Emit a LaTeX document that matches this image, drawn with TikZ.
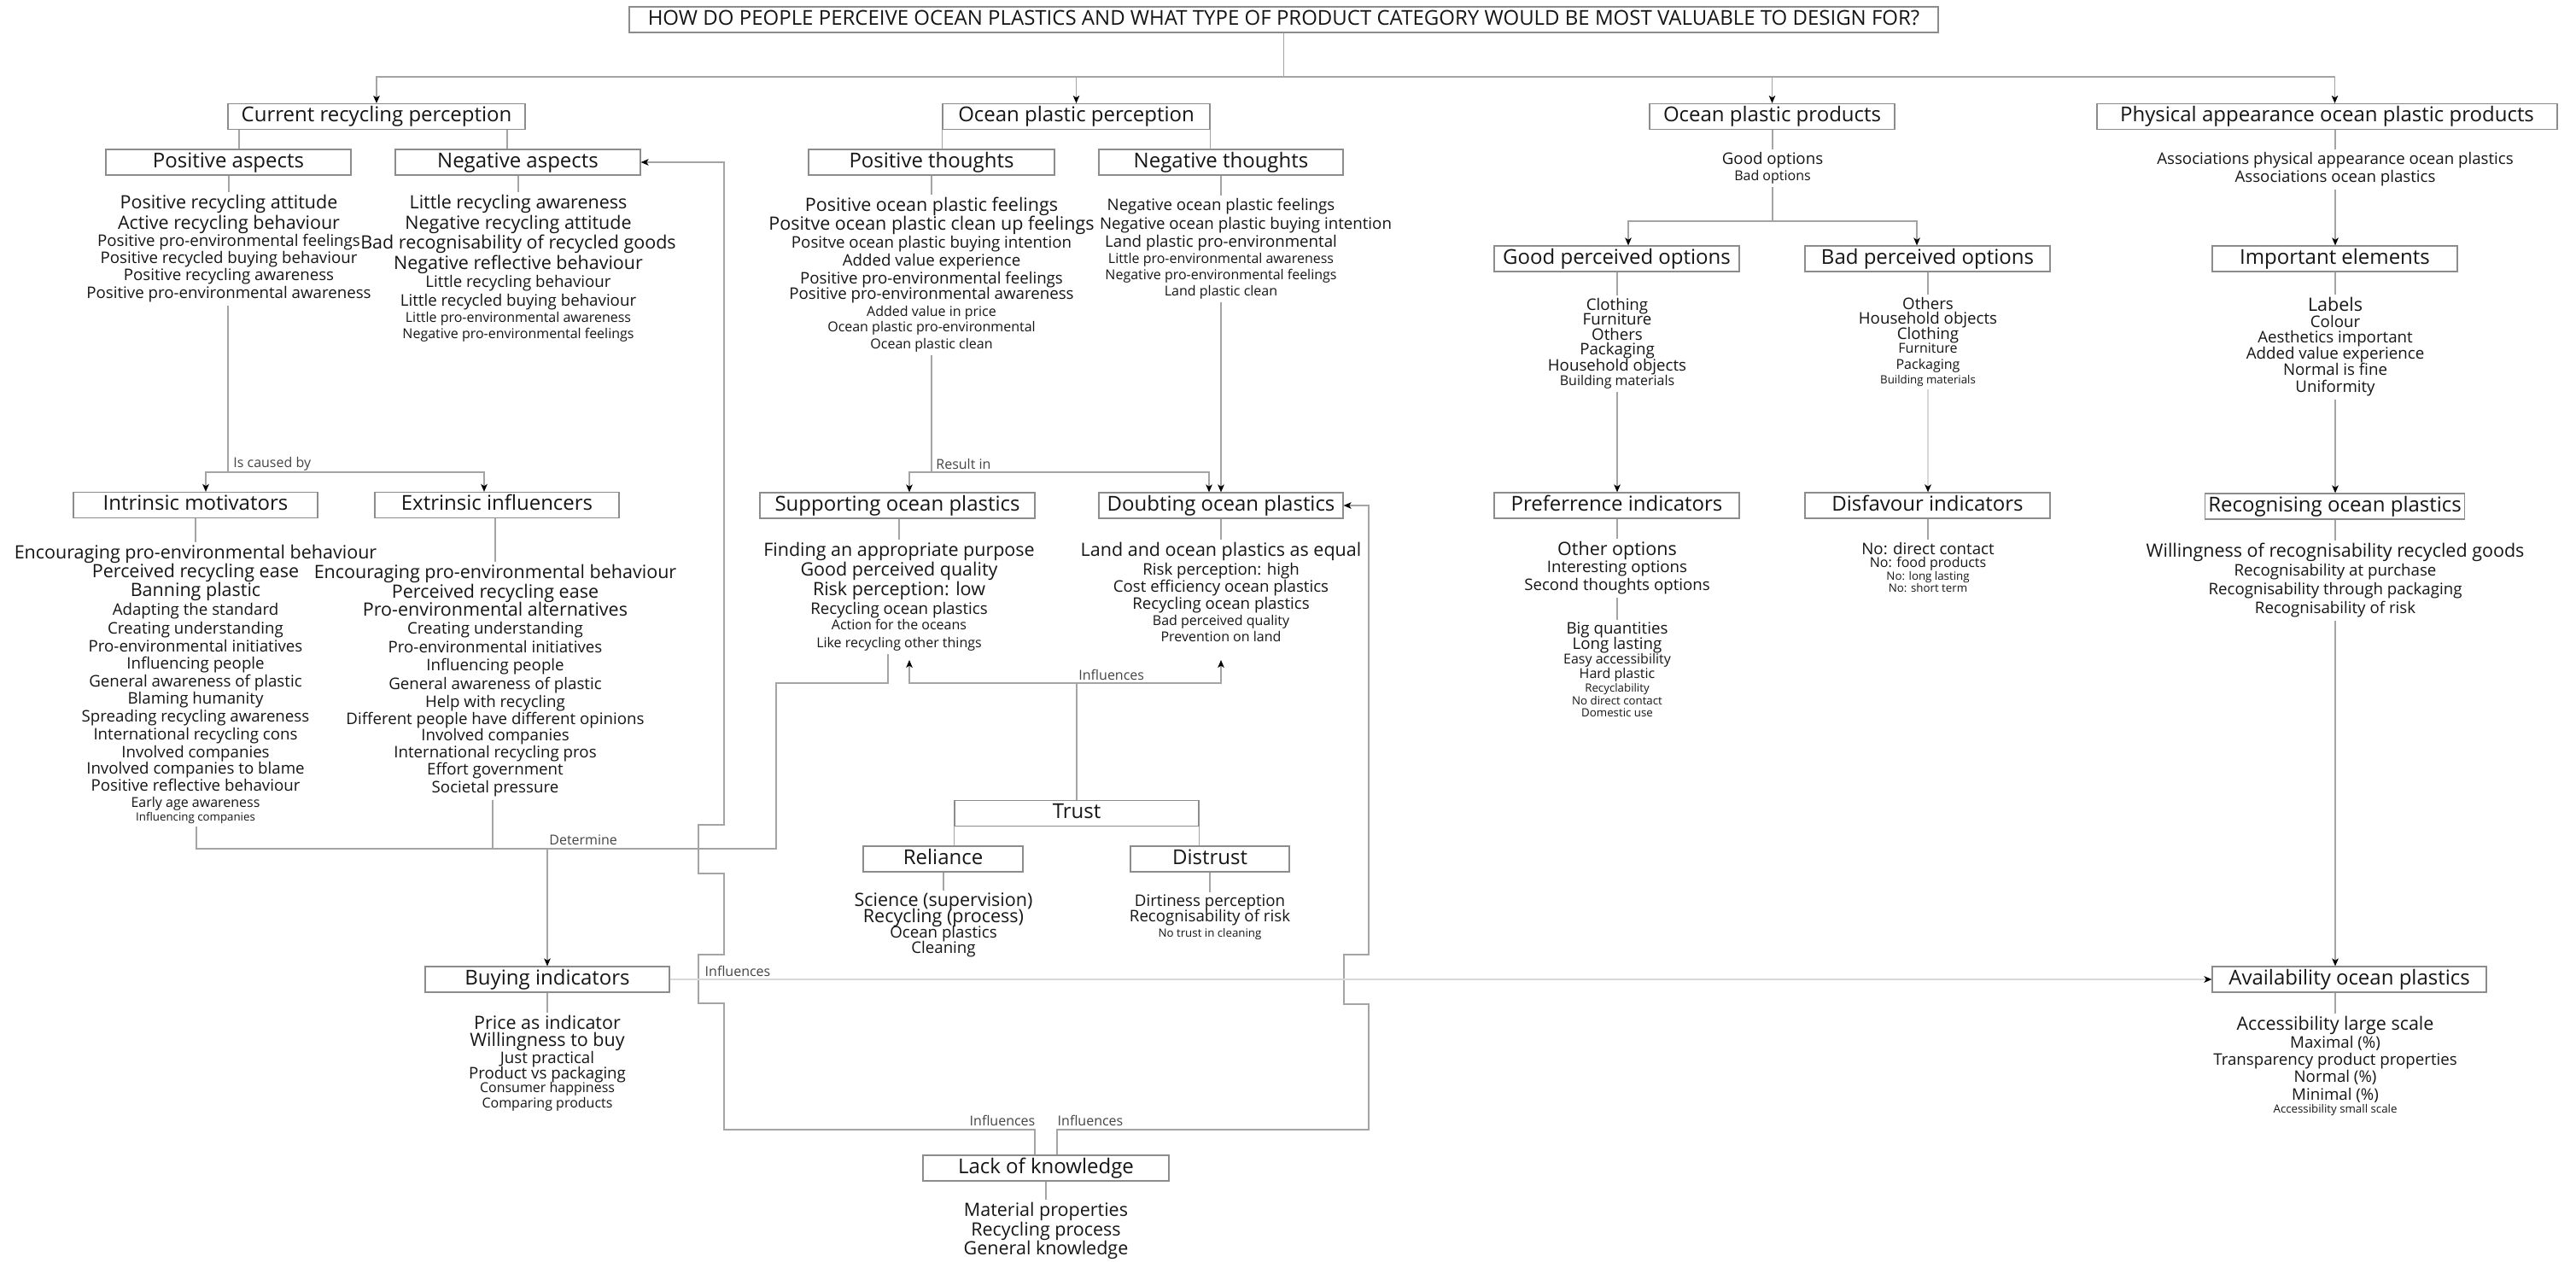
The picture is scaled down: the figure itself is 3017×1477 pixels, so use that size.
\documentclass[tikz,border=0pt]{standalone}
\usepackage{fontspec}
\setmainfont{Open Sans}
\usetikzlibrary{arrows.meta}
\definecolor{boxgray}{HTML}{8C8C8C}
\definecolor{lngray}{HTML}{A4A4A4}
\definecolor{lightln}{HTML}{D8D8D8}
\definecolor{txt}{HTML}{151515}
\definecolor{labtxt}{HTML}{444444}
\newcommand\szL{10.75}
\newcommand\szM{9.35}
\newcommand\szS{8}
\newcommand\szX{6.65}
\newcommand\mklist[3]{%
  \foreach \yy/\sz/\txt [count=\i] in {#3}{%
    \node[itm, font={\fontsize{\sz}{\sz}\selectfont}, yshift={-0.357*\sz}] (#1\i) at (#2,\yy) {\txt};}}
\newcommand\stem[2]{\draw[ln] (#2.north |- #1.south) -- (#2.north);}
\begin{document}
\begin{tikzpicture}[x=0.5pt,y=-0.5pt,
  box/.style={draw=boxgray, line width=0.6pt, inner xsep=2pt, inner ysep=0pt,
    minimum height=15pt, text height=8.6pt, text depth=2.4pt,
    font=\fontsize{12}{12}\selectfont, text=txt},
  itm/.style={anchor=base, inner xsep=0pt, inner ysep=1.5pt, text=txt},
  lab/.style={font=\fontsize{8}{8}\selectfont, text=labtxt, inner sep=0pt},
  ln/.style={draw=lngray, line width=0.55pt},
  lnl/.style={draw=lightln, line width=0.8pt},
  tip/.style={-{Stealth[length=4.5pt,width=3.8pt,inset=1.2pt,color=black]}},
  arr/.style={ln, tip},
  arrl/.style={lnl, tip}]
\useasboundingbox (0,0) rectangle (3017,1477);

% ---------- boxes ----------
\node[box, minimum width=766.5pt] (title) at (1503.5,23) {HOW DO PEOPLE PERCEIVE OCEAN PLASTICS AND WHAT TYPE OF PRODUCT CATEGORY WOULD BE MOST VALUABLE TO DESIGN FOR?};
\node[box, minimum width=174pt] (crp) at (441,136.5) {Current recycling perception};
\node[box, minimum width=156.5pt] (opperc) at (1260.5,136.5) {Ocean plastic perception};
\node[box, minimum width=143.5pt] (opp) at (2075.5,136.5) {Ocean plastic products};
\node[box, minimum width=269.5pt] (pa) at (2725.5,136.5) {Physical appearance ocean plastic products};
\node[box, minimum width=143.5pt] (posasp) at (267.5,190) {Positive aspects};
\node[box, minimum width=143.5pt] (negasp) at (606.5,190) {Negative aspects};
\node[box, minimum width=144pt] (pt) at (1091,190) {Positive thoughts};
\node[box, minimum width=143pt] (nt) at (1430,190) {Negative thoughts};
\node[box, minimum width=143.5pt] (gpo) at (1893.5,303) {Good perceived options};
\node[box, minimum width=143.5pt] (bpo) at (2257.5,303) {Bad perceived options};
\node[box, minimum width=143.5pt] (ie) at (2734.5,303) {Important elements};
\node[box, minimum width=143pt] (im) at (229,591.5) {Intrinsic motivators};
\node[box, minimum width=143pt] (ei) at (582,591.5) {Extrinsic influencers};
\node[box, minimum width=161pt] (sop) at (1051,592) {Supporting ocean plastics};
\node[box, minimum width=143pt] (dop) at (1430,592) {Doubting ocean plastics};
\node[box, minimum width=143.5pt] (pi) at (1893.5,592) {Preferrence indicators};
\node[box, minimum width=143.5pt] (di) at (2257.5,592) {Disfavour indicators};
\node[box, minimum width=143.5pt] (rop) at (2734.5,593) {Recognising ocean plastics};
\node[box, minimum width=143pt] (trust) at (1261,952.5) {Trust};
\node[box, minimum width=93.5pt] (rel) at (1104.5,1006) {Reliance};
\node[box, minimum width=93pt] (dis) at (1417,1006) {Distrust};
\node[box, minimum width=143pt] (bi) at (641,1147) {Buying indicators};
\node[box, minimum width=160.5pt] (av) at (2751.5,1147) {Availability ocean plastics};
\node[box, minimum width=144pt] (lok) at (1225,1368) {Lack of knowledge};

% ---------- item lists ----------
\mklist{lpos}{268}{237/\szL/Positive recycling attitude,
261/\szL/Active recycling behaviour,
282/\szM/Positive pro-environmental feelings,
302/\szM/Positive recycled buying behaviour,
322/\szM/Positive recycling awareness,
343/\szM/Positive pro-environmental awareness}
\mklist{lneg}{607}{237/\szL/Little recycling awareness,
261/\szL/Negative recycling attitude,
284/\szL/Bad recognisability of recycled goods,
308/\szL/Negative reflective behaviour,
330/\szM/Little recycling behaviour,
352/\szM/Little recycled buying behaviour,
372/\szS/Little pro-environmental awareness,
391/\szS/Negative pro-environmental feelings}
\mklist{lim}{229}{647/\szL/Encouraging pro-environmental behaviour,
669/\szL/Perceived recycling ease,
691/\szL/Banning plastic,
714/\szM/Adapting the standard,
736/\szM/Creating understanding,
757/\szM/Pro-environmental initiatives,
777/\szM/Influencing people,
798/\szM/General awareness of plastic,
818/\szM/Blaming humanity,
839/\szM/Spreading recycling awareness,
860/\szM/International recycling cons,
881/\szM/Involved companies,
900/\szM/Involved companies to blame,
920/\szM/Positive reflective behaviour,
940/\szS/Early age awareness,
957/\szX/Influencing companies}
\mklist{lei}{580}{670/\szL/Encouraging pro-environmental behaviour,
693/\szL/Perceived recycling ease,
714/\szL/Pro-environmental alternatives,
736/\szM/Creating understanding,
758/\szM/Pro-environmental initiatives,
779/\szM/Influencing people,
801/\szM/General awareness of plastic,
822/\szM/Help with recycling,
842/\szM/Different people have different opinions,
861/\szM/Involved companies,
881/\szM/International recycling pros,
901/\szM/Effort government,
922/\szM/Societal pressure}
\mklist{lpt}{1091}{240/\szL/Positive ocean plastic feelings,
262/\szL/Positve ocean plastic clean up feelings,
284/\szM/Positve ocean plastic buying intention,
305/\szM/Added value experience,
326/\szM/Positive pro-environmental feelings,
344/\szM/Positive pro-environmental awareness,
365/\szS/Added value in price,
383/\szS/Ocean plastic pro-environmental,
403/\szS/Ocean plastic clean}
\mklist{lnt}{1430}{240/\szM/Negative ocean plastic feelings}
\mklist{lnb}{1459}{262/\szM/Negative ocean plastic buying intention}
\mklist{lnu}{1430}{283/\szM/Land plastic pro-environmental,
303/\szS/Little pro-environmental awareness,
322/\szS/Negative pro-environmental feelings,
341/\szS/Land plastic clean}
\mklist{lsop}{1053}{644/\szL/Finding an appropriate purpose,
667/\szL/Good perceived quality,
690/\szL/Risk perception: low,
713/\szM/Recycling ocean plastics,
732/\szS/Action for the oceans,
753/\szS/Like recycling other things}
\mklist{ldop}{1430}{644/\szL/Land and ocean plastics as equal,
667/\szM/Risk perception: high,
687/\szM/Cost efficiency ocean plastics,
707/\szM/Recycling ocean plastics,
727/\szS/Bad perceived quality,
746/\szS/Prevention on land}
\mklist{lrel}{1105}{1054/\szL/Science (supervision),
1073/\szL/Recycling (process),
1092/\szM/Ocean plastics,
1110/\szM/Cleaning}
\mklist{ldis}{1417}{1055/\szM/Dirtiness perception,
1073/\szM/Recognisability of risk,
1093/\szX/No trust in cleaning}
\mklist{llok}{1225}{1417/\szL/Material properties,
1440/\szL/Recycling process,
1462/\szL/General knowledge}
\mklist{lbi}{641}{1198/\szL/Price as indicator,
1218/\szL/Willingness to buy,
1239/\szM/Just practical,
1257/\szM/Product vs packaging,
1274/\szS/Consumer happiness,
1292/\szS/Comparing products}
\mklist{lopp}{2076}{186/\szM/Good options,
206/\szS/Bad options}
\mklist{lgpo}{1894}{357/\szM/Clothing,
374/\szM/Furniture,
392/\szM/Others,
409/\szM/Packaging,
428/\szM/Household objects,
446/\szS/Building materials}
\mklist{lbpo}{2258}{356/\szM/Others,
373/\szM/Household objects,
391/\szM/Clothing,
408/\szS/Furniture,
427/\szS/Packaging,
445/\szX/Building materials}
\mklist{lpi}{1894}{643/\szL/Other options,
664/\szM/Interesting options,
685/\szM/Second thoughts options}
\mklist{lpj}{1894}{736/\szM/Big quantities,
754/\szM/Long lasting,
772/\szS/Easy accessibility,
789/\szS/Hard plastic,
806/\szX/Recyclability,
821/\szX/No direct contact,
835/\szX/Domestic use}
\mklist{ldi}{2258}{643/\szM/No: direct contact,
659/\szS/No: food products,
675/\szX/No: long lasting,
689/\szX/No: short term}
\mklist{lpa}{2735}{186/\szM/Associations physical appearance ocean plastics,
207/\szM/Associations ocean plastics}
\mklist{lie}{2735}{357/\szL/Labels,
377/\szM/Colour,
395/\szM/Aesthetics important,
414/\szM/Added value experience,
433/\szM/Normal is fine,
453/\szM/Uniformity}
\mklist{lrop}{2735}{645/\szL/Willingness of recognisability recycled goods,
668/\szM/Recognisability at purchase,
690/\szM/Recognisability through packaging,
712/\szM/Recognisability of risk}
\mklist{lav}{2735}{1199/\szL/Accessibility large scale,
1221/\szM/Maximal (\%),
1241/\szM/Transparency product properties,
1261/\szM/Normal (\%),
1282/\szM/Minimal (\%),
1299/\szX/Accessibility small scale}

% ---------- labels ----------
\node[lab, anchor=west] (lbcb) at (273,543) {Is caused by};
\node[lab, anchor=west] (lbri) at (1096,543) {Result in};
\node[lab, anchor=west] (lbti) at (1263,790) {Influences};
\node[lab, anchor=west] (lbdt) at (643,984) {Determine};
\node[lab] (lbbi) at (864,1137) {Influences};
\node[lab] (lblk1) at (1174,1312) {Influences};
\node[lab] (lblk2) at (1277,1312) {Influences};

% ---------- stems box -> list ----------
\stem{posasp}{lpos1} \stem{negasp}{lneg1} \stem{im}{lim1} \stem{ei}{lei1}
\stem{pt}{lpt1} \stem{nt}{lnt1} \stem{sop}{lsop1} \stem{dop}{ldop1}
\stem{rel}{lrel1} \stem{dis}{ldis1} \stem{lok}{llok1} \stem{bi}{lbi1}
\stem{opp}{lopp1} \stem{gpo}{lgpo1} \stem{bpo}{lbpo1} \stem{pi}{lpi1}
\stem{di}{ldi1} \stem{pa}{lpa1} \stem{ie}{lie1} \stem{rop}{lrop1} \stem{av}{lav1}
\draw[ln] (lpi3.south) -- (lpi3.south |- lpj1.north);

% ---------- title fan-out ----------
\coordinate (hub) at (1503.5,90);
\draw[ln] (title.south) -- (hub);
\draw[arr] (hub) -| (crp.north);
\draw[arr] (hub) -| (opperc.north);
\draw[arr] (hub) -| (opp.north);
\draw[arr] (hub) -| (pa.north -| ie.north);

% ---------- current recycling perception ----------
\coordinate (k1) at (280,0);
\coordinate (k2) at (594,0);
\draw[ln] (crp.south -| k1) -- (posasp.north -| k1);
\draw[ln] (crp.south -| k2) -- (negasp.north -| k2);
\coordinate (cb) at (267,553);
\coordinate (cbl) at (241,553);
\coordinate (cbr) at (567,553);
\draw[ln] (lpos6.south -| cb) -- (cb);
\draw[arr] (cb) -- (cbl) -- (im.north -| cbl);
\draw[arr] (cb) -- (cbr) -- (ei.north -| cbr);

% ---------- ocean plastic perception ----------
\draw[ln] (opperc.south west) -- (opperc.south west |- pt.north);
\draw[ln] (opperc.south east) -- (opperc.south east |- nt.north);
\coordinate (ri) at (1091,553);
\coordinate (ril) at (1065,553);
\coordinate (rir) at (1416,553);
\draw[ln] (lpt9.south) -- (ri);
\draw[arr] (ri) -- (ril) -- (sop.north -| ril);
\draw[arr] (ri) -- (rir) -- (dop.north -| rir);
\draw[arr] (lnu4.south) -- (lnu4.south |- dop.north);

% ---------- trust ----------
\draw[ln] (trust.south west) -- (trust.south west |- rel.north);
\draw[ln] (trust.south east) -- (trust.south east |- dis.north);
\coordinate (ti) at (1261,800);
\coordinate (til) at (1065,800);
\coordinate (tir) at (1430,800);
\coordinate (tipl) at (1065,773);
\coordinate (tipr) at (1430,773);
\draw[ln] (trust.north) -- (ti);
\draw[arr] (ti) -- (til) -- (tipl);
\draw[arr] (ti) -- (tir) -- (tipr);

% ---------- determine ----------
\coordinate (d1) at (230,994);
\coordinate (d2) at (577,994);
\coordinate (d3) at (909,994);
\coordinate (d4) at (909,800);
\coordinate (d5) at (1040,800);
\coordinate (dm) at (641,994);
\draw[ln] (lim16.south -| d1) -- (d1) -- (d3) -- (d4) -- (d5) -- (lsop6.south -| d5);
\draw[ln] (lei13.south -| d2) -- (d2);
\draw[arr] (dm) -- (bi.north);

% ---------- lack of knowledge brackets ----------
\coordinate (kb0) at (1212,1323);
\coordinate (kc0) at (1238,1323);
\draw[arr] (lok.north -| kb0) -- (kb0) -- (848,1323) -- (848,1175) -- (818,1175) -- (818,1118)
  -- (848,1118) -- (848,1023) -- (818,1023) -- (818,966) -- (848,966) -- (848,190) -- (negasp.east);
\draw[arr] (lok.north -| kc0) -- (kc0) -- (1603,1323) -- (1603,1176) -- (1574,1176) -- (1574,1118)
  -- (1603,1118) -- (1603,592) -- (dop.east);

% ---------- buying indicators -> availability ----------
\draw[arrl] (bi.east) -- (av.west);

% ---------- ocean plastic products ----------
\coordinate (oj) at (2076,259);
\coordinate (ojl) at (1907,259);
\coordinate (ojr) at (2245,259);
\draw[ln] (lopp2.south) -- (oj);
\draw[arr] (oj) -- (ojl) -- (gpo.north -| ojl);
\draw[arr] (oj) -- (ojr) -- (bpo.north -| ojr);
\draw[arr] (lgpo6.south) -- (lgpo6.south |- pi.north);
\draw[arrl] (lbpo6.south) -- (lbpo6.south |- di.north);

% ---------- physical appearance ----------
\draw[arr] (lpa2.south) -- (lpa2.south |- ie.north);
\draw[arr] (lie6.south) -- (lie6.south |- rop.north);
\draw[arr] (lrop4.south) -- (lrop4.south |- av.north);
\end{tikzpicture}
\end{document}
